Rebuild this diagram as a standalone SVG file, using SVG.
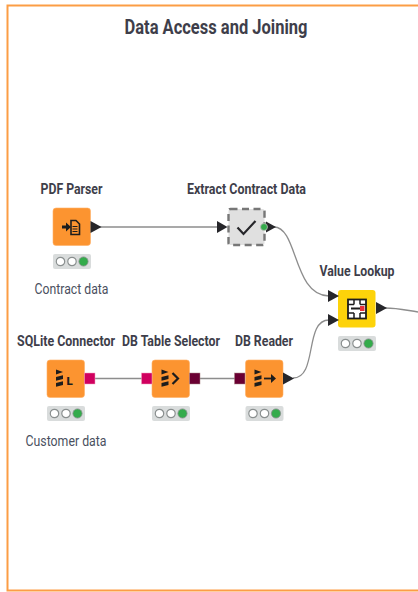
<svg xmlns="http://www.w3.org/2000/svg" width="418" height="592" viewBox="0 0 418 592">
<style>
text{font-family:Roboto,"Liberation Sans",sans-serif;text-anchor:middle}
.t{font-size:15px;font-weight:700;fill:#3e3e4a}
.s{font-size:13.8px}
.l{font-size:15px;fill:#4a5060}
.n{fill:#fc9430;stroke:#ffb066;stroke-width:.6}
.tl{fill:#d9dcdc}
.o{fill:#fff;stroke:#8a8f8f;stroke-width:1.2}
.g{fill:#34ab4b;stroke:#8a8f8f;stroke-width:.8}
.c{fill:none;stroke:#8d8d8d;stroke-width:1.3}
.a{fill:#26262a}
.i{fill:#1d1d1d}
.d{fill:#d0005f;stroke:#f2a0c0;stroke-width:.5}
.e{fill:#6a0033;stroke:#a88;stroke-width:.5}
</style>
<defs>
<g id="lights"><rect class="tl" x="0" y="0" width="38" height="15" rx="2"/><circle class="o" cx="7.500" cy="7.500" r="4.200"/><circle class="o" cx="19" cy="7.500" r="4.200"/><circle class="g" cx="30.500" cy="7.500" r="4.600"/></g>
<g id="db"><path class="i" d="M0 0l7 2.500-7 2.500zM0 7.500l7-1.800v3.800l-7 1.800zM0 13.500l7-1.800v3.800l-7 1.800z"/></g>
</defs>
<rect x="7.500" y="5.500" width="430" height="585" fill="#fff" stroke="#fc9d45" stroke-width="2"/>
<text class="t" x="216" y="34" style="font-size:20px" textLength="183" lengthAdjust="spacingAndGlyphs">Data Access and Joining</text>
<g id="connectors">
<path class="c" d="M99 227H218"/>
<path class="c" d="M274 227C298 227 293 296 329 296"/>
<path class="c" d="M293 378C318 378 304 320 329 320"/>
<path class="c" d="M95 378.500H142"/>
<path class="c" d="M200 378.500H235"/>
<path class="c" d="M385 308C398 308 405 310 418 312"/>
</g>
<g id="pdf-parser">
<text class="t" x="71.500" y="194" textLength="62" lengthAdjust="spacingAndGlyphs">PDF Parser</text>
<rect class="n" x="53" y="208" width="37.500" height="37.500" rx="3"/>
<path class="i" d="M62 225.500h4v-3l5 4.500-5 4.500v-3h-4z"/>
<path d="M71 220.500h5l3.500 3.500v10.500h-8.500z" fill="none" stroke="#1d1d1d" stroke-width="1.600"/>
<path d="M72.500 226.500h5M72.500 229h5M72.500 231.500h5" stroke="#1d1d1d" stroke-width="1.100"/>
<path class="a" d="M90.500 221l11 6-11 6z"/>
<use href="#lights" x="53" y="254"/>
<text class="l" x="71.500" y="294" textLength="74" lengthAdjust="spacingAndGlyphs">Contract data</text>
</g>
<g id="extract-contract-data">
<text class="t" x="246.500" y="194" textLength="119" lengthAdjust="spacingAndGlyphs">Extract Contract Data</text>
<rect x="228.500" y="209" width="36" height="36" rx="2" fill="#e0e0e0" stroke="#777" stroke-width="2.400" stroke-dasharray="7 4.500"/>
<path d="M237.500 227.500l6 6.500 12-13" fill="none" stroke="#26262a" stroke-width="2.200"/>
<path class="a" d="M217 221l10.500 6-10.500 6z"/>
<path class="a" d="M266 221.500l10 5.500-10 5.500z"/>
<circle cx="264" cy="227" r="3.500" fill="#34ab4b" stroke="#bbb" stroke-width=".8"/>
</g>
<g id="value-lookup">
<text class="t" x="357" y="276" textLength="75" lengthAdjust="spacingAndGlyphs">Value Lookup</text>
<rect x="338" y="290" width="37.500" height="37.500" rx="3" fill="#fdd30a"/>
<rect x="348" y="299.500" width="18" height="19" fill="#fff" stroke="#1d1d1d" stroke-width="1.800"/>
<path d="M354 299.500v5M360 299.500v5M348 304.500h6M360 304.500h6M354 313v5.500M360 313v5.500M348 313h6M360 313h6" stroke="#1d1d1d" stroke-width="1.500" fill="none"/>
<path d="M351 308.500h9" stroke="#1d1d1d" stroke-width="2"/>
<rect x="360" y="306" width="4.500" height="5" fill="#e8303a"/>
<path class="a" d="M328 290l11 6-11 6z"/>
<path class="a" d="M328 314l11 6-11 6z"/>
<path class="a" d="M376 302l11 6-11 6z"/>
<use href="#lights" x="338" y="336"/>
</g>
<g id="sqlite-connector">
<text class="t s" x="66" y="346" textLength="98" lengthAdjust="spacingAndGlyphs">SQLite Connector</text>
<rect class="n" x="47" y="360" width="37.500" height="37.500" rx="3"/>
<use href="#db" x="56" y="369.500"/>
<text x="69.500" y="385" style="font-size:11.500px;font-weight:900;fill:#1d1d1d">L</text>
<rect class="d" x="84.500" y="373" width="10.500" height="11"/>
<use href="#lights" x="47" y="406"/>
<text class="l" x="66" y="446" textLength="81" lengthAdjust="spacingAndGlyphs">Customer data</text>
</g>
<g id="db-table-selector">
<text class="t s" x="171" y="346" textLength="98" lengthAdjust="spacingAndGlyphs">DB Table Selector</text>
<rect class="n" x="152" y="360" width="37.500" height="37.500" rx="3"/>
<use href="#db" x="161.500" y="369.500"/>
<path d="M172.500 373l5.500 5.500-5.500 5.500" fill="none" stroke="#1d1d1d" stroke-width="2.200"/>
<rect class="d" x="141.500" y="373" width="10.500" height="11"/>
<rect class="e" x="189.500" y="373" width="10.500" height="11"/>
<use href="#lights" x="152" y="406"/>
</g>
<g id="db-reader">
<text class="t" x="264" y="346" textLength="58" lengthAdjust="spacingAndGlyphs">DB Reader</text>
<rect class="n" x="245.500" y="360" width="37.500" height="37.500" rx="3"/>
<use href="#db" x="254.500" y="369.500"/>
<path d="M264 378.500h8" stroke="#1d1d1d" stroke-width="1.800"/>
<path class="i" d="M271 374l5 4.500-5 4.500z"/>
<rect class="e" x="234.500" y="373" width="10.500" height="11"/>
<path class="a" d="M283 372.500l11 6-11 6z"/>
<use href="#lights" x="245.500" y="406"/>
</g>
</svg>
